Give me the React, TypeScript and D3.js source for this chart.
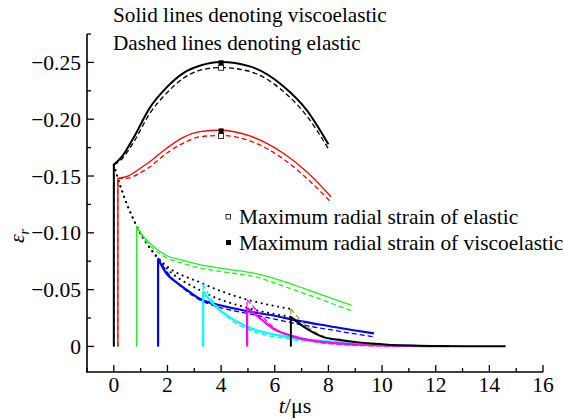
import * as d3 from "d3";
import React from "react";

// t in µs, radial strain (negative)
const blackT = [0, 0.3, 0.72, 1.34, 1.97, 2.59, 3.2, 3.98, 5.07, 6.32, 7.19, 8.0];
const blackVisco = [-0.16, -0.167, -0.183, -0.21, -0.228, -0.2406, -0.247, -0.2503, -0.2465, -0.229, -0.208, -0.178];
const blackElastic = [-0.16, -0.165, -0.179, -0.205, -0.223, -0.236, -0.243, -0.2455, -0.242, -0.2245, -0.203, -0.174];

const redT = [0.15, 0.47, 1.0, 1.34, 1.97, 2.59, 3.21, 3.95, 5.07, 6.32, 7.19, 8.1];
const redVisco = [-0.148, -0.1494, -0.157, -0.1626, -0.1744, -0.184, -0.189, -0.1903, -0.1853, -0.17, -0.1538, -0.1318];
const redElastic = [-0.148, -0.148, -0.153, -0.158, -0.17, -0.179, -0.1845, -0.1857, -0.181, -0.165, -0.148, -0.127];

const greenT = [0.85, 1.0, 1.34, 1.97, 2.59, 3.2, 4.08, 5.32, 6.57, 7.81, 8.87];
const greenVisco = [-0.106, -0.1, -0.091, -0.08, -0.0757, -0.072, -0.0685, -0.064, -0.0553, -0.045, -0.0362];
const greenElastic = [-0.106, -0.099, -0.089, -0.078, -0.073, -0.069, -0.0656, -0.061, -0.051, -0.0406, -0.0312];

const blueT = [1.65, 1.97, 2.3, 2.59, 3.2, 4.0, 5.0, 6.0, 7.0, 8.0, 9.0, 9.7];
const blueVisco = [-0.077, -0.064, -0.057, -0.052, -0.042, -0.036, -0.031, -0.027, -0.022, -0.018, -0.014, -0.0115];
const blueElastic = [-0.078, -0.066, -0.057, -0.051, -0.041, -0.034, -0.029, -0.024, -0.019, -0.015, -0.011, -0.0085];

const cyanT = [3.33, 3.6, 4.0, 4.5, 5.0, 5.5, 6.2, 7.0, 8.0, 9.0, 10.0, 11.3];
const cyanVisco = [-0.048, -0.04, -0.031, -0.023, -0.017, -0.013, -0.0095, -0.0065, -0.0045, -0.003, -0.0015, -0.0005];
const cyanElastic = [-0.055, -0.043, -0.031, -0.021, -0.015, -0.011, -0.0078, -0.005, -0.0033, -0.002, -0.001, -0.0003];

const magentaT = [4.97, 5.32, 5.95, 6.57, 7.2, 7.81, 8.5, 9.5, 10.5, 11.5, 12.5];
const magentaVisco = [-0.034, -0.0274, -0.0156, -0.0097, -0.006, -0.0038, -0.0025, -0.0013, -0.0007, -0.0003, -0.0002];
const magentaElastic = [-0.041, -0.032, -0.017, -0.009, -0.0055, -0.003, -0.0015, -0.0006, -0.0002, -0.0001, -0.0001];

const black2T = [6.6, 7.19, 7.81, 8.5, 9.05, 9.6, 10.2, 11, 12, 13, 14.6];
const black2Visco = [-0.026, -0.0156, -0.0082, -0.0055, -0.0038, -0.0025, -0.0015, -0.0008, -0.0004, -0.0002, -0.0001];
const black2Elastic = [-0.033, -0.018, -0.009, -0.005, -0.003, -0.0018, -0.001, -0.0005, -0.0002, -0.0001, -0.0001];

// peak envelopes (dotted)
const envElasticT = [0, 0.15, 0.85, 1.65, 3.35, 5.0, 6.6];
const envElastic = [-0.16, -0.148, -0.106, -0.078, -0.055, -0.041, -0.033];
const envViscoT = [0, 0.15, 0.85, 1.65, 3.33, 4.97, 6.6];
const envVisco = [-0.16, -0.148, -0.106, -0.077, -0.048, -0.034, -0.026];

// maxima markers
const maxT = [4, 4];
const maxVisco = [-0.2497, -0.1897];
const maxElastic = [-0.2453, -0.1853];

const xTicks = [0, 2, 4, 6, 8, 10, 12, 14, 16];
const xMinor = [-1, 1, 3, 5, 7, 9, 11, 13, 15];
const yTicks = [0, -0.05, -0.1, -0.15, -0.2, -0.25];
const yMinor = [-0.025, -0.075, -0.125, -0.175, -0.225, -0.275];

const W = 563;
const H = 419;
const x = d3.scaleLinear().domain([-1, 16]).range([87, 543]);
const y = d3.scaleLinear().domain([0.0225, -0.275]).range([372, 34]);

const font = "Liberation Serif, DejaVu Serif, serif";

type Pt = [number, number];
const zip = (t: number[], v: number[]): Pt[] => t.map((d, i) => [d, v[i]]);

const line = d3
  .line<Pt>()
  .x((d) => x(d[0]))
  .y((d) => y(d[1]))
  .curve(d3.curveMonotoneX);

const series = [
  { t: blackT, visco: blackVisco, elastic: blackElastic, color: "#000", w: 2, ec: "#000" },
  { t: redT, visco: redVisco, elastic: redElastic, color: "#ff0000", w: 1.3, ec: "#ff0000" },
  { t: greenT, visco: greenVisco, elastic: greenElastic, color: "#22ee22", w: 1.3, ec: "#22ee22" },
  { t: blueT, visco: blueVisco, elastic: blueElastic, color: "#0000ff", w: 2.2, ec: "#0000ff" },
  { t: cyanT, visco: cyanVisco, elastic: cyanElastic, color: "#00ffff", w: 2.2, ec: "#00eeee" },
  { t: magentaT, visco: magentaVisco, elastic: magentaElastic, color: "#ff00ff", w: 2.2, ec: "#ff00ff" },
  { t: black2T, visco: black2Visco, elastic: black2Elastic, color: "#000", w: 2, ec: "#9a9a40" },
];

const fmt = (v: number) => (v === 0 ? "0" : "\u2212" + Math.abs(v).toFixed(2));

export default function App() {
  const y0 = y(0);
  return (
    <svg
      width={W}
      height={H}
      style={{ display: "block", position: "absolute", left: 0, top: 0, background: "#fff", fontFamily: font }}
    >
      {/* dotted envelopes */}
      <path d={line(zip(envElasticT, envElastic)) || ""} fill="none" stroke="#000" strokeWidth={2} strokeDasharray="0.1,5.5" strokeLinecap="round" />
      <path d={line(zip(envViscoT, envVisco)) || ""} fill="none" stroke="#000" strokeWidth={2} strokeDasharray="0.1,5.5" strokeLinecap="round" />

      {series.map((s, i) => (
        <g key={i}>
          <line x1={x(s.t[0])} x2={x(s.t[0])} y1={y0} y2={y(s.elastic[0])} stroke={s.ec} strokeWidth={1.2} strokeDasharray="5,3" />
          <path d={line(zip(s.t, s.elastic)) || ""} fill="none" stroke={s.ec} strokeWidth={1.3} strokeDasharray="5,3" />
          <line x1={x(s.t[0])} x2={x(s.t[0])} y1={y0} y2={y(s.visco[0])} stroke={s.color} strokeWidth={s.w} />
          <path d={line(zip(s.t, s.visco)) || ""} fill="none" stroke={s.color} strokeWidth={s.w} />
        </g>
      ))}

      {/* maxima markers */}
      {maxT.map((t, i) => (
        <g key={"m" + i}>
          <rect x={x(t) - 2.5} y={y(maxElastic[i]) - 2.5} width={5} height={5} fill="#fff" stroke="#000" strokeWidth={0.8} />
          <rect x={x(t) - 2.5} y={y(maxVisco[i]) - 2.5} width={5} height={5} fill="#000" />
        </g>
      ))}

      {/* axes */}
      <line x1={x(-1)} x2={x(16)} y1={372} y2={372} stroke="#000" strokeWidth={1.6} />
      <line x1={87} x2={87} y1={34} y2={372.8} stroke="#000" strokeWidth={1.6} />
      {xTicks.map((t) => (
        <g key={"xt" + t}>
          <line x1={x(t)} x2={x(t)} y1={372} y2={365} stroke="#000" strokeWidth={1.3} />
          <text x={x(t)} y={392} fontSize={21.5} textAnchor="middle">{t}</text>
        </g>
      ))}
      {xMinor.map((t) => (
        <line key={"xm" + t} x1={x(t)} x2={x(t)} y1={372} y2={368} stroke="#000" strokeWidth={1.3} />
      ))}
      {yTicks.map((v) => (
        <g key={"yt" + v}>
          <line x1={87} x2={94} y1={y(v)} y2={y(v)} stroke="#000" strokeWidth={1.3} />
          <text x={81} y={y(v) + 7.5} fontSize={21.5} textAnchor="end">{fmt(v)}</text>
        </g>
      ))}
      {yMinor.map((v) => (
        <line key={"ym" + v} x1={87} x2={91} y1={y(v)} y2={y(v)} stroke="#000" strokeWidth={1.3} />
      ))}

      {/* axis titles */}
      <text x={295} y={413} fontSize={22} textAnchor="middle">
        <tspan fontStyle="italic">t</tspan>/μs
      </text>
      <text transform="translate(24,236) rotate(-90)" fontSize={22} textAnchor="middle">
        <tspan fontStyle="italic">ε</tspan>
        <tspan fontStyle="italic" fontSize={14} dy={5}>r</tspan>
      </text>

      {/* notes */}
      <text x={113} y={22} fontSize={21.2}>Solid lines denoting viscoelastic</text>
      <text x={113} y={50} fontSize={21.2}>Dashed lines denoting elastic</text>

      {/* legend */}
      <rect x={226} y={214.5} width={4.5} height={4.5} fill="#fff" stroke="#000" strokeWidth={0.8} />
      <text x={239} y={224} fontSize={21.4}>Maximum radial strain of elastic</text>
      <rect x={226} y={240} width={5} height={5} fill="#000" />
      <text x={239} y={250} fontSize={21.4}>Maximum radial strain of viscoelastic</text>
    </svg>
  );
}
